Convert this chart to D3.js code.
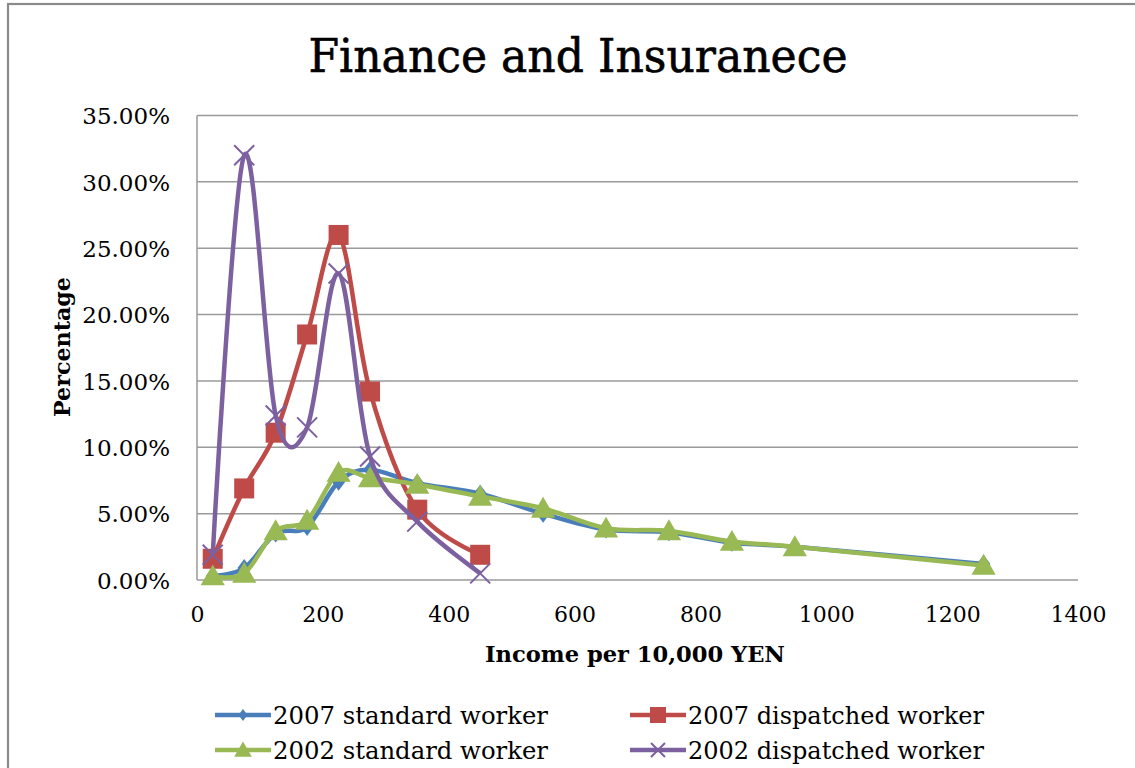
<!DOCTYPE html>
<html><head><meta charset="utf-8">
<script src="https://cdn.jsdelivr.net/npm/d3@7"></script>
<style>body{margin:0;background:#fff}svg{display:block}</style>
</head><body>
<svg id="c" width="1135" height="768"></svg>
<script>
const incomes = [25, 75, 125, 175, 225, 275, 350, 450, 550, 650, 750, 850, 950, 1250];
const std2007 = [0.3, 0.9, 3.5, 4.0, 7.4, 8.3, 7.3, 6.5, 5.0, 3.8, 3.6, 2.8, 2.5, 1.2];
const disp2007 = [1.6, 6.9, 11.1, 18.5, 26.0, 14.2, 5.3, 1.9];
const std2002 = [0.3, 0.5, 3.7, 4.5, 8.1, 7.7, 7.2, 6.3, 5.4, 3.9, 3.7, 2.9, 2.5, 1.1];
const disp2002 = [1.9, 32.0, 12.4, 11.5, 23.1, 9.3, 4.4, 0.5];
const seriesNames = ["2007 standard worker", "2007 dispatched worker", "2002 standard worker", "2002 dispatched worker"];
const xTicks = [0, 200, 400, 600, 800, 1000, 1200, 1400];
const yTicks = [0, 5, 10, 15, 20, 25, 30, 35];

const svg = d3.select("#c");
const serif = "'DejaVu Serif', serif";
const x = d3.scaleLinear().domain([0, 1400]).range([197, 1078]);
const y = d3.scaleLinear().domain([0, 35]).range([580, 115.5]);

// outer border
svg.append("rect").attr("x", 8).attr("y", 4).attr("width", 1200).attr("height", 900)
  .attr("fill", "none").attr("stroke", "#8a8a8a").attr("stroke-width", 2.2);

// title
svg.append("text").attr("x", 578).attr("y", 72).attr("text-anchor", "middle")
  .attr("font-family", serif).attr("font-size", 47).attr("fill", "#000")
  .attr("stroke", "#000").attr("stroke-width", 0.6)
  .attr("textLength", 539).attr("lengthAdjust", "spacingAndGlyphs")
  .text("Finance and Insuranece");

// gridlines
svg.append("g").selectAll("line").data(yTicks).join("line")
  .attr("x1", x(0)).attr("x2", x(1400)).attr("y1", d => y(d)).attr("y2", d => y(d))
  .attr("stroke", "#9a9a9a").attr("stroke-width", 1.5);
svg.append("line").attr("x1", x(0)).attr("x2", x(0)).attr("y1", y(0)).attr("y2", y(35))
  .attr("stroke", "#9a9a9a").attr("stroke-width", 1.5);

// axes
const yAxis = d3.axisLeft(y).tickValues(yTicks).tickSize(0).tickPadding(27)
  .tickFormat(d => d.toFixed(2) + "%");
const gy = svg.append("g").attr("transform", `translate(${x(0)},0)`).call(yAxis);
gy.select(".domain").remove();
gy.selectAll("text").attr("font-family", serif).attr("font-size", 23).attr("fill", "#000")
  .attr("dy", "0.36em");

const xAxis = d3.axisBottom(x).tickValues(xTicks).tickSize(0).tickPadding(26).tickFormat(d3.format("d"));
const gx = svg.append("g").attr("transform", `translate(0,${y(0)})`).call(xAxis);
gx.select(".domain").remove();
gx.selectAll("text").attr("font-family", serif).attr("font-size", 22).attr("fill", "#000");

// axis titles
svg.append("text").attr("transform", "translate(70,347) rotate(-90)").attr("text-anchor", "middle")
  .attr("font-family", serif).attr("font-weight", "bold").attr("font-size", 22)
  .attr("textLength", 140).attr("lengthAdjust", "spacingAndGlyphs").text("Percentage");
svg.append("text").attr("x", 635).attr("y", 662).attr("text-anchor", "middle")
  .attr("font-family", serif).attr("font-weight", "bold").attr("font-size", 22)
  .attr("textLength", 300).attr("lengthAdjust", "spacingAndGlyphs").text("Income per 10,000 YEN");

const colors = ["#4A7EBB", "#BE4B48", "#98B954", "#7D60A0"];
const values = [std2007, disp2007, std2002, disp2002];
const line = d3.line().x(d => x(d[0])).y(d => y(d[1])).curve(d3.curveCardinal.tension(0));

function marker(g, type, color, s) {
  if (type === 0) {
    g.append("path").attr("d", `M0,${-s}L${s*0.75},0L0,${s}L${-s*0.75},0Z`).attr("fill", color);
  } else if (type === 1) {
    g.append("rect").attr("x", -s).attr("y", -s).attr("width", 2*s).attr("height", 2*s).attr("fill", color);
  } else if (type === 2) {
    g.append("path").attr("d", `M0,${-s*1.05}L${s*1.1},${s*0.85}L${-s*1.1},${s*0.85}Z`).attr("fill", color);
  } else {
    g.append("path").attr("d", `M${-s},${-s}L${s},${s}M${-s},${s}L${s},${-s}`)
      .attr("stroke", color).attr("stroke-width", 2).attr("fill", "none");
  }
}
const msize = [9, 10, 11, 10];

values.forEach((vals, i) => {
  const pts = vals.map((v, j) => [incomes[j], v]);
  const g = svg.append("g");
  g.append("path").datum(pts).attr("d", line).attr("fill", "none")
    .attr("stroke", colors[i]).attr("stroke-width", 4.5).attr("stroke-linejoin", "round");
  pts.forEach(p => {
    const mg = g.append("g").attr("transform", `translate(${x(p[0])},${y(p[1])})`);
    marker(mg, i, colors[i], msize[i]);
  });
});

// legend
const legPos = [[215, 715], [630, 715], [215, 750], [630, 750]];
seriesNames.forEach((name, i) => {
  const [lx, ly] = legPos[i];
  const g = svg.append("g");
  g.append("line").attr("x1", lx).attr("x2", lx + 56).attr("y1", ly).attr("y2", ly)
    .attr("stroke", colors[i]).attr("stroke-width", 4.5);
  const mg = g.append("g").attr("transform", `translate(${lx + 28},${ly})`);
  marker(mg, i, colors[i], [6, 8, 8, 7][i]);
  g.append("text").attr("x", lx + 58).attr("y", ly + 9).attr("font-family", serif)
    .attr("font-size", 25).attr("fill", "#000")
    .attr("textLength", [275, 296, 275, 296][i]).attr("lengthAdjust", "spacingAndGlyphs")
    .text(name);
});
</script>
</body></html>
